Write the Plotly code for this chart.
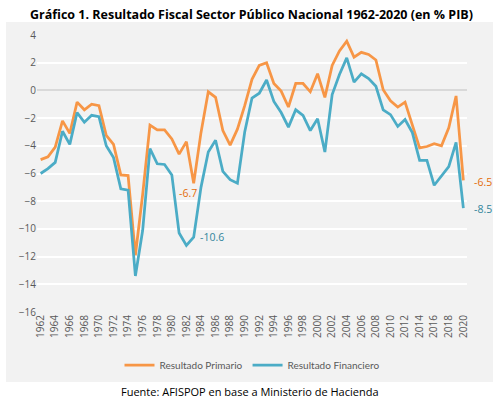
import plotly.graph_objects as go

years = list(range(1962, 2021))
primario = [-5.0, -4.8, -4.1, -2.2, -3.1, -0.85, -1.4, -1.0, -1.1, -3.25,
            -3.9, -6.1, -6.15, -11.9, -7.5, -2.5, -2.85, -2.85, -3.5, -4.6,
            -3.7, -6.7, -3.05, -0.1, -0.5, -2.9, -3.95, -2.8, -1.1, 0.8,
            1.8, 2.0, 0.5, -0.05, -1.2, 0.5, 0.5, -0.1, 1.2, -0.5,
            1.8, 2.85, 3.55, 2.4, 2.75, 2.6, 2.2, 0.05, -0.75, -1.2,
            -0.85, -2.55, -4.15, -4.05, -3.85, -4.0, -2.7, -0.4, -6.5]
financiero = [-6.0, -5.65, -5.2, -2.95, -3.9, -1.6, -2.3, -1.8, -1.9, -4.0,
              -4.85, -7.1, -7.2, -13.4, -10.1, -4.2, -5.3, -5.35, -6.1, -10.3,
              -11.2, -10.6, -7.0, -4.45, -3.6, -5.85, -6.45, -6.7, -3.0, -0.55,
              -0.2, 0.75, -0.8, -1.6, -2.65, -1.4, -1.8, -2.9, -2.05, -4.45,
              -0.3, 1.15, 2.35, 0.6, 1.2, 0.85, 0.3, -1.4, -1.75, -2.6,
              -2.1, -3.05, -5.05, -5.05, -6.85, -6.2, -5.5, -3.75, -8.5]
y_ticks = list(range(-16, 5, 2))
x_ticks = list(range(1962, 2021, 2))

orange = "#F79646"
blue = "#4BACC6"
orange_txt = "#E46C0A"
blue_txt = "#31859C"
font = "Open Sans"

fig = go.Figure()
fig.add_trace(go.Scatter(x=years, y=primario, mode="lines", name="Resultado Primario",
                         line=dict(color=orange, width=2.75)))
fig.add_trace(go.Scatter(x=years, y=financiero, mode="lines", name="Resultado Financiero",
                         line=dict(color=blue, width=2.75)))

def label(year, series, color, xanchor, yanchor, xshift, yshift):
    i = years.index(year)
    v = series[i]
    fig.add_annotation(x=year, y=v, xref="x", yref="y", text=f"{v:.1f}", showarrow=False,
                       xanchor=xanchor, yanchor=yanchor, xshift=xshift, yshift=yshift,
                       font=dict(family=font, size=10.5, color=color))

label(1983, primario, orange_txt, "center", "top", -6, -1)
label(1983, financiero, blue_txt, "left", "middle", 4, 0)
label(2020, primario, orange_txt, "left", "middle", 9, -2)
label(2020, financiero, blue_txt, "left", "middle", 9, -1)

fig.add_shape(type="rect", xref="paper", yref="paper", layer="below",
              x0=-31/430, x1=(493-37)/430, y0=-(382-312)/277, y1=(312-22)/277,
              fillcolor="#F2F2F2", line=dict(width=0))

fig.add_annotation(text="<b>Gráfico 1. Resultado Fiscal Sector Público Nacional 1962-2020 (en % PIB)</b>",
                   xref="paper", yref="paper", x=(251-37)/430, y=(312-14)/277,
                   xanchor="center", yanchor="middle", showarrow=False,
                   font=dict(family=font, size=12.5, color="#000000"))
fig.add_annotation(text="Fuente: AFISPOP en base a Ministerio de Hacienda",
                   xref="paper", yref="paper", x=(250-37)/430, y=-(391-312)/277,
                   xanchor="center", yanchor="middle", showarrow=False,
                   font=dict(family=font, size=11, color="#000000"))

fig.update_layout(
    width=503, height=404,
    margin=dict(l=37, r=36, t=35, b=92, autoexpand=False),
    paper_bgcolor="white", plot_bgcolor="#F2F2F2",
    showlegend=True,
    legend=dict(orientation="h", x=(252-37)/430, xanchor="center", y=-(365-312)/277, yanchor="middle",
                font=dict(family="Lato", size=10, color="#595959"), bgcolor="rgba(0,0,0,0)",
                itemwidth=30, tracegroupgap=0),
    font=dict(family=font, color="#595959"),
)
fig.update_xaxes(range=[1961.5, 2020.5], tickvals=x_ticks, ticktext=[str(t) for t in x_ticks],
                 tickangle=-90, showgrid=False, zeroline=False, showline=False, automargin=False,
                 tickfont=dict(family=font, size=10, color="#595959"), ticks="")
fig.update_yaxes(range=[-16, 4], tickvals=y_ticks, showgrid=True, gridcolor="#FFFFFF", gridwidth=1.5,
                 zeroline=True, zerolinecolor="#D9D9D9", zerolinewidth=2, automargin=False,
                 tickfont=dict(family=font, size=10, color="#595959"), ticks="", ticklen=0)

fig.write_html("out.html", config={"displayModeBar": False},
               post_script="document.body.style.margin='0';document.body.style.overflow='hidden';")
